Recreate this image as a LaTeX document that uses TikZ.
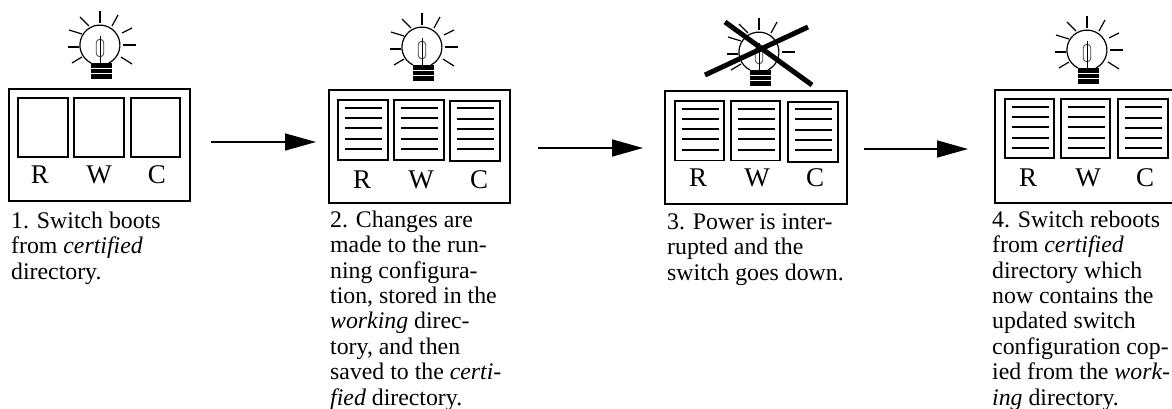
\documentclass[tikz,border=0pt]{standalone}
\usepackage{fontspec}
\setmainfont{Liberation Serif}
\usetikzlibrary{arrows.meta}
\newcommand{\capfont}{\fontsize{23.8pt}{25.4pt}\selectfont}
\newcommand{\firstline}{\rule{0pt}{18pt}}
\tikzset{
  outerbox/.style={draw=black,line width=2pt,fill=none},
  innerbox/.style={draw=black,line width=1.8pt},
  docline/.style={line width=1.4pt},
  ray/.style={line width=1.2pt},
  letter/.style={anchor=base,inner sep=0pt,font=\fontsize{27pt}{28pt}\selectfont},
  caption/.style={anchor=north west,inner sep=0pt,align=left,font=\capfont},
  flow/.style={line width=1.6pt,-{Triangle[length=31pt,width=17pt]}},
  crossbar/.style={line width=5pt}
}
\newcommand{\bulb}[2]{%
  \begin{scope}[shift={(#1,#2)}]
    \draw[line width=1.2pt] (-9,18) arc[start angle=116.5,end angle=423.5,radius=20];
    \draw[line width=.8pt,draw=black!75] (-3.8,-2) arc[start angle=180,end angle=360,radius=3.8] -- (3.8,8) arc[start angle=0,end angle=180,radius=3.8] -- cycle;
    \draw[line width=.9pt] (0,-9) -- (0,18);
    \fill[black] (-9,18) rectangle (12,34);
    \fill[white] (-9,23.5) rectangle (12,24.5);
    \fill[white] (-9,28.5) rectangle (12,29.5);
    \foreach \xa/\ya/\xb/\yb in {0/-34/0/-22,12/-19/18/-30,22/-12/32/-17,23/0/36/0,21/12/32/19,-11/-19/-20/-28,-18/-11/-31/-15,-21/2/-32/2,-18/12/-28/18}
      \draw[ray] (\xa,\ya) -- (\xb,\yb);
  \end{scope}}
\newcommand{\docbox}[5]{% x1, x2, y1, y2, line ys
  \draw[innerbox] (#1,#3) rectangle (#2,#4);
  \foreach \yy in {#5}
    \draw[docline] ({#1+6.5},\yy) -- ({#1+43.5},\yy);}
\begin{document}
\begin{tikzpicture}[x=1pt,y=-1pt]
\useasboundingbox (0,0) rectangle (1172,409);
% panels
\node[outerbox,minimum width=181pt,minimum height=112pt,inner sep=0pt] (p1) at (99.5,145) {};
\node[outerbox,minimum width=181pt,minimum height=113pt,inner sep=0pt] (p2) at (419.5,146.5) {};
\node[outerbox,minimum width=182pt,minimum height=112.5pt,inner sep=0pt] (p3) at (756,147.25) {};
\draw[outerbox] (1180,90) -- (995,90) -- (995,203) -- (1180,203);
% bulbs
\bulb{100}{45}
\bulb{422}{47}
\bulb{759}{52}
\bulb{1087}{50}
% cross
\coordinate (xa) at (725,22); \coordinate (xb) at (812,85);
\coordinate (xc) at (705,75); \coordinate (xd) at (808,27);
\draw[crossbar] (xa) -- (xb);
\draw[crossbar] (xc) -- (xd);
% panel 1
\draw[innerbox] (18,98) rectangle (68,157);
\draw[innerbox] (74,98) rectangle (124,157);
\draw[innerbox] (131,98) rectangle (180,157);
\node[letter] (r1) at (40,183) {R};
\node[letter] (w1) at (99,183) {W};
\node[letter] (c1) at (157,183) {C};
% panel 2
\docbox{338}{388}{100}{160}{108,118,128,139,149}
\docbox{394}{444}{100}{160}{108,118,128,139,149}
\docbox{450}{500}{101}{161}{108,119,129,139,149}
\node[letter] (r2) at (362,188) {R};
\node[letter] (w2) at (421,188) {W};
\node[letter] (c2) at (479,188) {C};
% panel 3
\docbox{675}{724}{101}{160.5}{109,119,129,139,150}
\docbox{731}{780}{101}{160.5}{109,119,129,139,150}
\docbox{788}{838}{102}{162}{109,119,130,140,150}
\node[letter] (r3) at (698,186) {R};
\node[letter] (w3) at (757,186) {W};
\node[letter] (c3) at (815,186) {C};
% panel 4
\docbox{1005}{1054}{99}{158}{107,117,127,138,148}
\docbox{1061}{1110}{99}{158}{107,117,127,138,148}
\docbox{1118}{1168}{99}{158}{107,118,128,138,148}
\node[letter] (r4) at (1028,186) {R};
\node[letter] (w4) at (1088,186) {W};
\node[letter] (c4) at (1145,186) {C};
% arrows
\coordinate (a1s) at (211,142); \coordinate (a1e) at (316,142);
\coordinate (a2s) at (538,148); \coordinate (a2e) at (643,148);
\coordinate (a3s) at (864,149); \coordinate (a3e) at (968,149);
\draw[flow] (a1s) -- (a1e);
\draw[flow] (a2s) -- (a2e);
\draw[flow] (a3s) -- (a3e);
% captions
\node[caption] (t1) at (11,210) {\firstline 1. Switch boots\\from \textit{certified}\\directory.};
\node[caption] (t2) at (330,209) {\firstline 2. Changes are\\made to the run-\\ning configura-\\tion, stored in the\\\textit{working} direc-\\tory, and then\\saved to the \textit{certi-}\\\textit{fied} directory.};
\node[caption] (t3) at (667,211) {\firstline 3. Power is inter-\\rupted and the\\switch goes down.};
\node[caption] (t4) at (992,209) {\firstline 4. Switch reboots\\from \textit{certified}\\directory which\\now contains the\\updated switch\\configuration cop-\\ied from the \textit{work-}\\\textit{ing} directory.};
\end{tikzpicture}
\end{document}
